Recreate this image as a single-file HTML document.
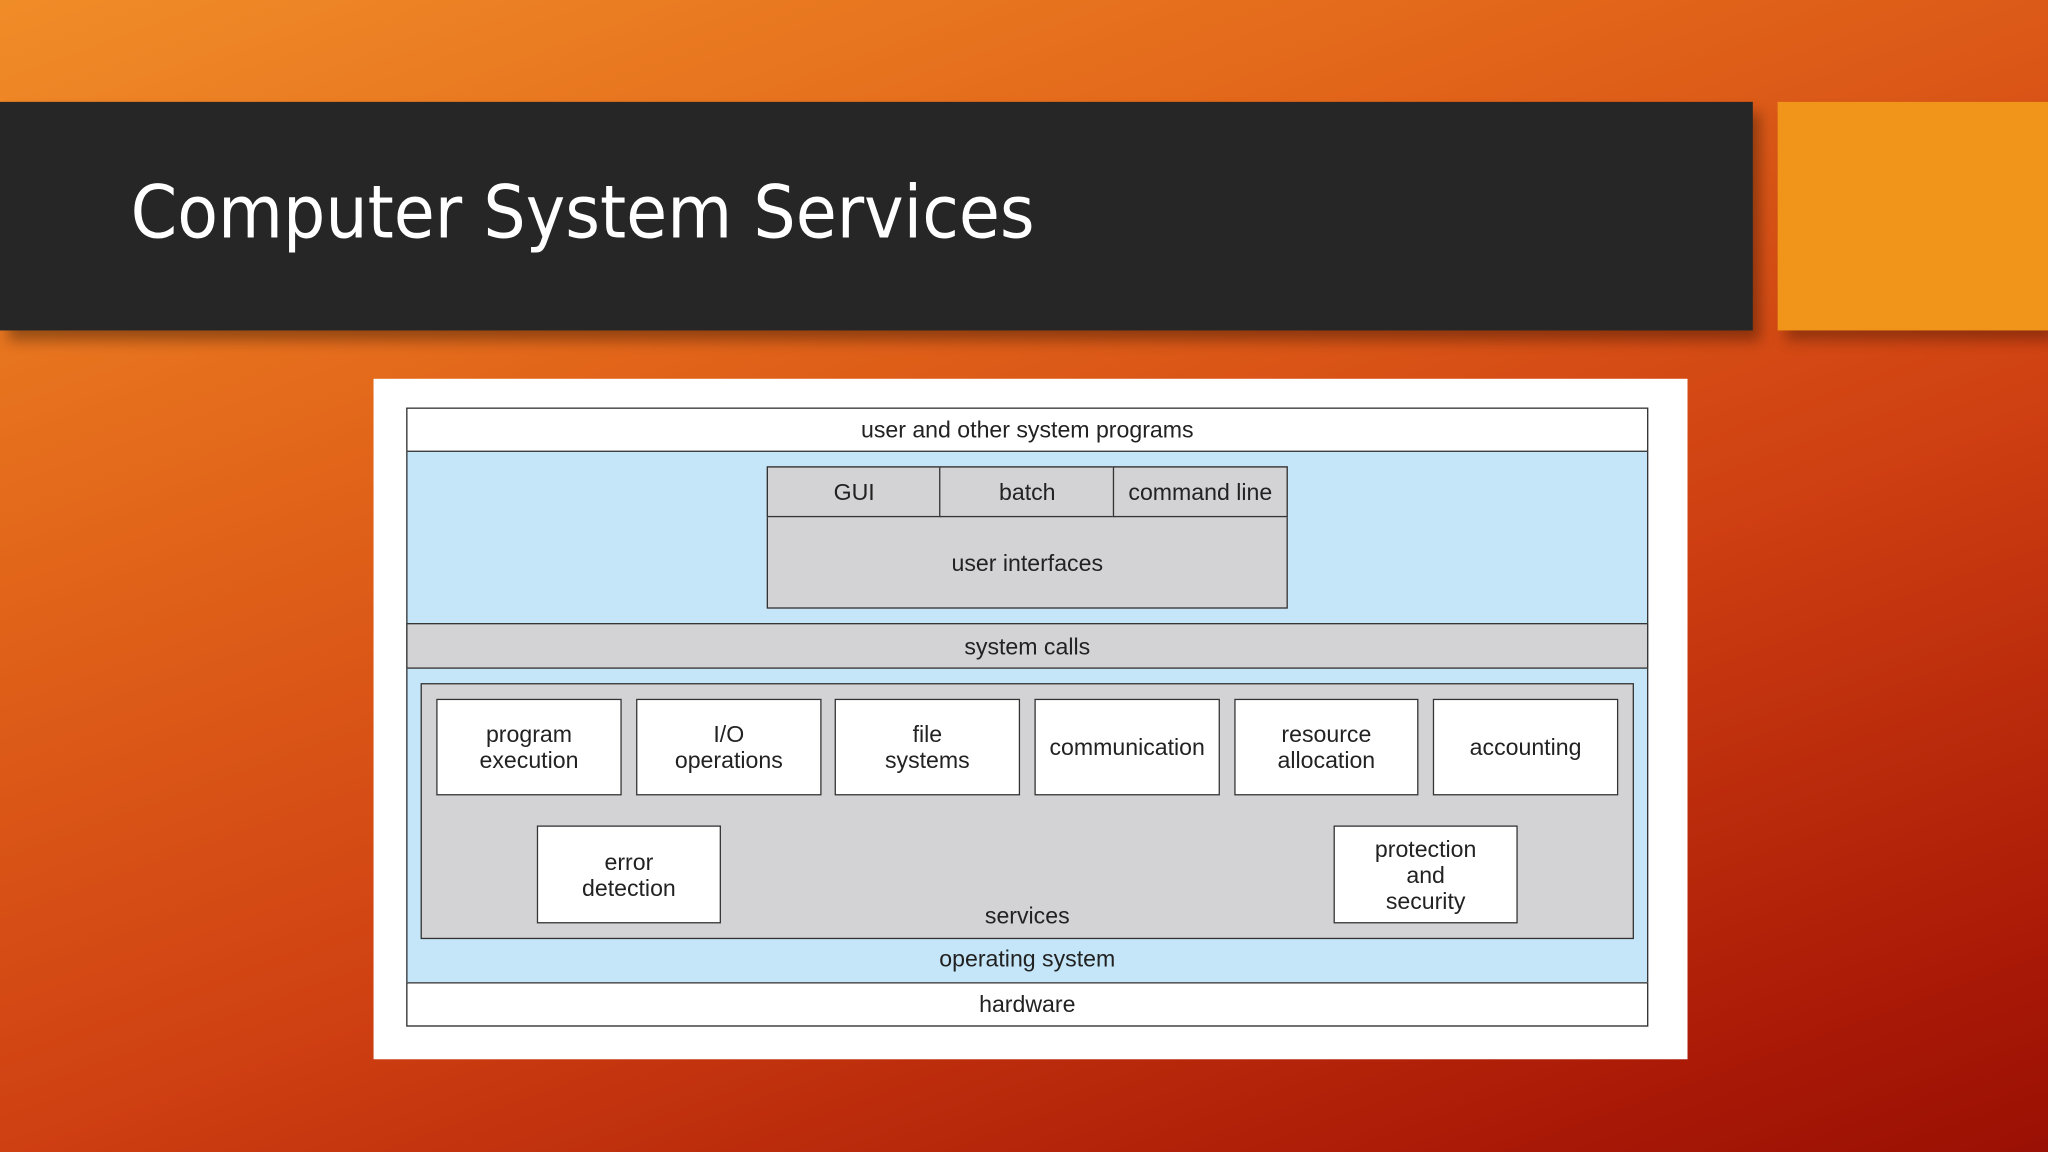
<!DOCTYPE html>
<html><head><meta charset="utf-8"><style>
html,body{margin:0;padding:0;width:2048px;height:1152px;overflow:hidden}
#s{position:absolute;left:0;top:0;width:1568px;height:882px;transform:scale(1.306122);transform-origin:0 0;
background:linear-gradient(160deg,#f08c28 0%,#e2661a 30%,#cf4012 60%,#a81806 90%,#9a1004 100%);font-family:"Liberation Sans",Arial,sans-serif}
.a{position:absolute;box-sizing:border-box}
.t{display:flex;align-items:center;justify-content:center;text-align:center;font-size:17.7px;color:#222;line-height:20px}
.b{border:1.5px solid #333}
.w{background:#fff}
</style></head><body><div id="s">
<div class="a" style="left:0;top:78px;width:1342px;height:175px;background:#262626;box-shadow:6px 8px 10px rgba(0,0,0,.35)"></div>
<div class="a" style="left:1361px;top:78px;width:207px;height:175px;background:#f0941a;box-shadow:6px 8px 10px rgba(0,0,0,.3)"></div>
<div class="a" style="left:100px;top:128px;color:#fff;font-family:'DejaVu Sans',sans-serif;font-size:56px;line-height:72px;transform:scaleX(0.912);transform-origin:0 0;white-space:nowrap">Computer System Services</div>
<div class="a" style="left:286px;top:290px;width:1006px;height:521px;background:#fff"></div>
<div class="a b" style="left:311px;top:312px;width:951px;height:474px;background:#c5e6f8"></div>
<div class="a b w t" style="left:311px;top:312px;width:951px;height:34px">user and other system programs</div>
<div class="a b t" style="left:587px;top:357px;width:399px;height:109px;background:#d3d3d5;padding-top:38px">user interfaces</div>
<div class="a b t" style="left:587px;top:357px;width:134px;height:39px;background:#d3d3d5">GUI</div>
<div class="a b t" style="left:719px;top:357px;width:135px;height:39px;background:#d3d3d5">batch</div>
<div class="a b t" style="left:852px;top:357px;width:134px;height:39px;background:#d3d3d5">command line</div>
<div class="a b t" style="left:311px;top:477px;width:951px;height:35px;background:#d3d3d5">system calls</div>
<div class="a b" style="left:322px;top:523px;width:929px;height:196px;background:#d3d3d5"></div>
<div class="a t" style="left:322px;top:691px;width:929px;height:20px">services</div>
<div class="a b w t" style="left:334px;top:535px;width:142px;height:74px">program<br>execution</div>
<div class="a b w t" style="left:487px;top:535px;width:142px;height:74px">I/O<br>operations</div>
<div class="a b w t" style="left:639px;top:535px;width:142px;height:74px">file<br>systems</div>
<div class="a b w t" style="left:792px;top:535px;width:142px;height:74px">communication</div>
<div class="a b w t" style="left:945px;top:535px;width:141px;height:74px">resource<br>allocation</div>
<div class="a b w t" style="left:1097px;top:535px;width:142px;height:74px">accounting</div>
<div class="a b w t" style="left:411px;top:632px;width:141px;height:75px">error<br>detection</div>
<div class="a b w t" style="left:1021px;top:632px;width:141px;height:75px">protection<br>and<br>security</div>
<div class="a t" style="left:311px;top:724px;width:951px;height:20px">operating system</div>
<div class="a b w t" style="left:311px;top:752px;width:951px;height:34px">hardware</div>
</div></body></html>
